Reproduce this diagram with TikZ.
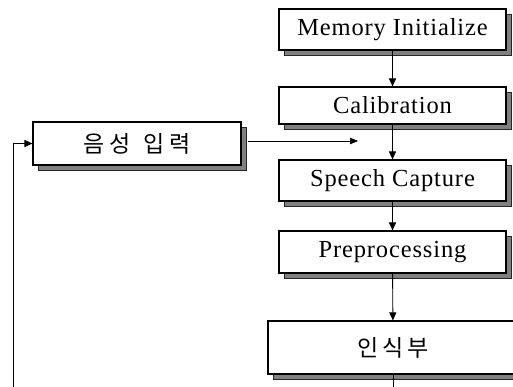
\documentclass[tikz,border=0pt]{standalone}
\usepackage{fontspec}
\setmainfont{Liberation Serif}
\newfontfamily\kr{Noto Sans CJK KR}
\usetikzlibrary{arrows.meta,shadows}
\begin{document}
\begin{tikzpicture}[x=1pt,y=-1pt,
  stepbox/.style={draw=black,line width=1.1pt,fill=white,rectangle,inner sep=0pt,
    minimum width=227pt,
    drop shadow={shadow xshift=5.5pt,shadow yshift=-5.5pt,fill=black!50,
      draw=black!85,line width=0.5pt,opacity=1},
    font=\fontsize{24.5}{27}\selectfont\addfontfeature{LetterSpace=3.5}},
  krbox/.style={stepbox,font=\fontsize{23}{26}\selectfont\kr},
  flow/.style={line width=0.9pt,-{Triangle[length=8pt,width=7pt]}},
  thin flow/.style={line width=0.5pt,-{Triangle[length=8pt,width=6.5pt]}}]
\useasboundingbox (0,0) rectangle (513,387);

% main column
\node[stepbox,minimum height=41pt] (mem) at (392.5,29.5) {Memory Initialize};
\node[stepbox,minimum height=37pt] (cal) at (392.5,105.5) {Calibration};
\node[stepbox,minimum height=41pt] (cap) at (392.5,180.5) {Speech Capture};
\node[stepbox,minimum height=42pt] (pre) at (392.5,252) {Preprocessing};
\node[krbox,minimum width=250pt,minimum height=53pt] (rec) at (393,347.5)
  {인\hspace{4pt}식\hspace{4pt}부};

% speech input box on the left
\node[krbox,minimum width=208pt,minimum height=43pt] (in) at (137,143.5)
  {음\hspace{5pt}성\hspace{13pt}입\hspace{5pt}력};

% free ends
\coordinate (join) at (358,141);
\coordinate (out) at (393,387);
\coordinate (loop) at (13,387);

\draw[flow] (mem) -- (cal);
\draw[flow] (cal) -- (cap);
\draw[flow] (cap) -- (pre);
\draw[flow] (pre) -- (rec);
\draw[line width=0.9pt] (rec.south -| out) -- (out);
\draw[thin flow] ([xshift=6pt,yshift=2.5pt]in.east) -- (join);
\draw[flow] (loop) |- (in.west);
\end{tikzpicture}
\end{document}
